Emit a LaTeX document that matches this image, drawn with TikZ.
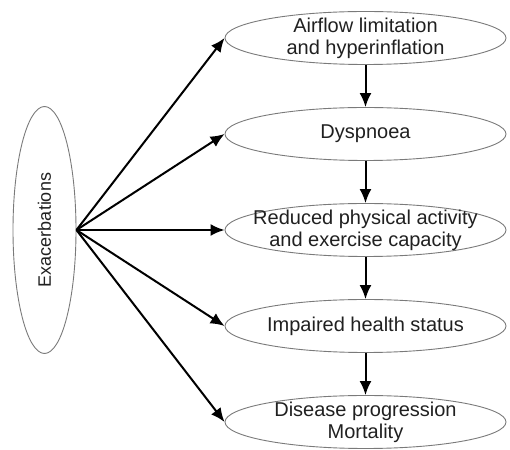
\documentclass[tikz,border=0pt]{standalone}
\usepackage{fontspec}
\setmainfont{Liberation Sans}
\usetikzlibrary{shapes.geometric,arrows.meta}
\definecolor{rimgray}{HTML}{7A7A7A}
\definecolor{inkgray}{HTML}{202020}

\begin{document}
\begin{tikzpicture}[>={Latex[length=7pt,width=6pt]},x=1pt,y=1pt,
		stage/.style={ellipse,draw=rimgray,line width=0.45pt,text=inkgray,
			minimum width=140.5pt,minimum height=26.5pt,
			inner xsep=-12pt,inner ysep=-3pt,
			align=center,font=\fontsize{10}{11}\selectfont},
		cause/.style={ellipse,draw=rimgray,line width=0.45pt,text=inkgray,
			minimum width=31.5pt,minimum height=123.5pt,inner sep=0pt,
			font=\fontsize{9}{10}\selectfont},
		flow/.style={->,line width=1pt,black}]
				\useasboundingbox (0,0) rectangle (255,225);

				\node[cause] (exac) at (22.25,110) {\rotatebox{90}{Exacerbations}};

				\node[stage] (airflow) at (182.75,206) {Airflow limitation\\and hyperinflation};
				\node[stage] (dysp) at (182.75,158) {Dyspnoea};
				\node[stage] (activity) at (182.75,110) {Reduced physical activity\\and exercise capacity};
				\node[stage] (health) at (182.75,62) {Impaired health status};
				\node[stage] (mort) at (182.75,14) {Disease progression\\Mortality};

				% fan out from the left
				\foreach \target in {airflow,dysp,activity,health,mort}
					\draw[flow] (exac.east) -- (\target.west);

				% chain down the right column
				\draw[flow] (airflow) -- (dysp);
				\draw[flow] (dysp) -- (activity);
				\draw[flow] (activity) -- (health);
				\draw[flow] (health) -- (mort);
			\end{tikzpicture}
\end{document}
